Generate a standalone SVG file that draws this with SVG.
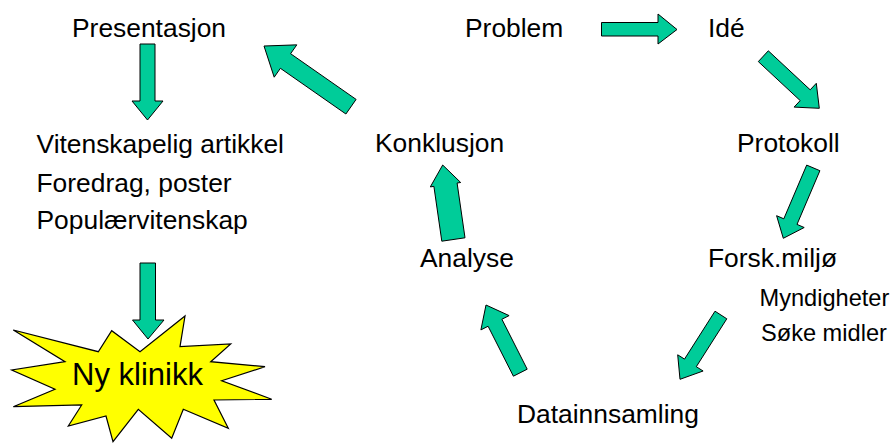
<svg xmlns="http://www.w3.org/2000/svg" width="894" height="443" viewBox="0 0 894 443">
  <style>
    .lbl { font-family: "Liberation Sans", Arial, sans-serif; font-size: 26.4px; fill: #000; }
    .sub { font-family: "Liberation Sans", Arial, sans-serif; font-size: 23.6px; fill: #000; }
    .big { font-family: "Liberation Sans", Arial, sans-serif; font-size: 31px; fill: #000; }
    .arrow { fill: #00CC99; stroke: #000; stroke-width: 1; stroke-linejoin: miter; }
    .burst { fill: #FFFF00; stroke: #000; stroke-width: 1.2; stroke-linejoin: miter; }
  </style>
  <rect width="894" height="443" fill="#fff"/>

  <!-- nodes -->
  <g id="presentasjon"><text class="lbl" x="72" y="37">Presentasjon</text></g>
  <g id="problem"><text class="lbl" x="465" y="36.5">Problem</text></g>
  <g id="ide"><text class="lbl" x="708" y="36.5">Idé</text></g>
  <g id="formidling">
    <text class="lbl" x="36.5" y="152.5">Vitenskapelig artikkel</text>
    <text class="lbl" x="36.5" y="191.5">Foredrag, poster</text>
    <text class="lbl" x="36.5" y="229">Populærvitenskap</text>
  </g>
  <g id="konklusjon"><text class="lbl" x="375" y="151.5">Konklusjon</text></g>
  <g id="protokoll"><text class="lbl" x="737" y="151.5">Protokoll</text></g>
  <g id="analyse"><text class="lbl" x="420" y="267">Analyse</text></g>
  <g id="forskmiljo">
    <text class="lbl" x="708" y="266.5">Forsk.miljø</text>
    <text class="sub" x="759.5" y="306">Myndigheter</text>
    <text class="sub" x="761" y="340.5">Søke midler</text>
  </g>
  <g id="datainnsamling"><text class="lbl" x="517" y="423">Datainnsamling</text></g>
  <g id="ny-klinikk">
    <polygon class="burst" points="185,316 180,346.7 230.7,344 210.7,361.7 265,366.7 221.7,380.7 271.7,399.3 214,400 228.3,428.3 183.3,409.3 171.7,438.3 138.3,409.3 113,441.7 106,416 68.3,426 81.7,405 13.3,406.7 55,389.3 11.7,370 65,361.7 13.3,330 98.3,351.7 111.7,330.7 140,351.7"/>
    <text class="big" x="72" y="385">Ny klinikk</text>
  </g>

  <!-- connectors: block arrows -->
  <g id="connectors">
    <polygon class="arrow" points="140,44 155,44 155,101 163,101 147.5,120 132,101 140,101"/>
    <polygon class="arrow" points="140,263 155.5,263 155.5,320 164,320 148,339 132.5,320 140,320"/>
    <polygon class="arrow" points="601.5,22.5 658,22.5 658,14 677,29.5 658,44 658,36 601.5,36"/>
    <polygon class="arrow" points="758.3,61.6 800.2,100.6 794.1,107.1 819.3,108.3 816.3,83.3 810.2,89.8 768.3,50.8"/>
    <polygon class="arrow" points="806.7,165.1 783.8,218.8 776.6,215.7 783.3,238.3 804.2,227.5 797,224.4 819.9,170.7"/>
    <polygon class="arrow" points="715,311.2 684.5,359.1 677.7,354.8 680,379.3 703.1,371 696.3,366.7 726.8,318.8"/>
    <polygon class="arrow" points="527.2,369.2 501.9,319.25 509.1,315.6 486,305 480.9,329.9 488.1,326.25 513.4,376.2"/>
    <polygon class="arrow" points="465,237.8 457.1,183 460.7,182.5 442.7,165 430.3,186.9 433.9,186.4 441.8,241.2"/>
    <polygon class="arrow" points="356.1,99.4 290.6,53.7 296.8,44.85 264,46 274.2,77.2 280.4,68.3 345.9,114"/>
  </g>
</svg>
